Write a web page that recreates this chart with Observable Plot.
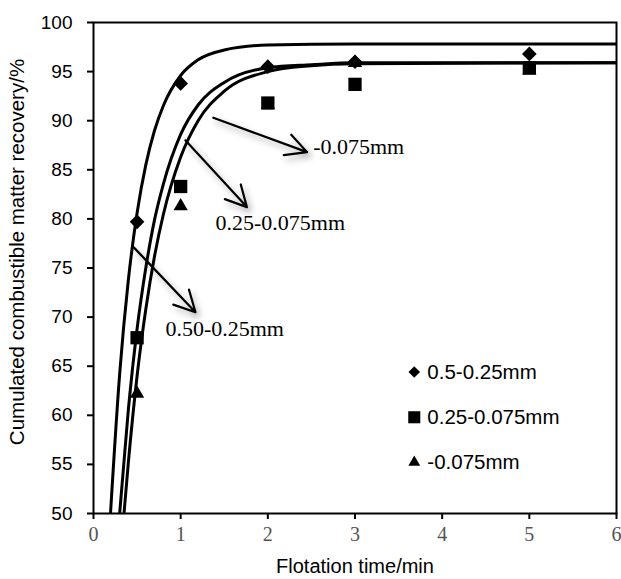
<!DOCTYPE html>
<html><head><meta charset="utf-8">
<script src="https://cdn.jsdelivr.net/npm/d3@7"></script>
<script src="https://cdn.jsdelivr.net/npm/@observablehq/plot@0.6"></script>
<style>body{margin:0;background:#fff}</style>
</head><body><div id="chart"></div>
<script>
// Measured points
const seriesNames = ["0.5-0.25mm", "0.25-0.075mm", "-0.075mm"];
const times = [0.5, 1, 2, 3, 5];
const coarseVals = [79.7, 93.8, 95.5, 96.0, 96.8];
const mediumVals = [67.9, 83.3, 91.8, 93.7, 95.4];
const fineVals   = [62.2, 81.3, 91.6, 95.9, 95.1];

// Fitted curves
const fitTimesA = [0.195, 0.3, 0.4, 0.5, 0.6, 0.7, 0.8, 1.0, 1.2, 1.5, 2.0, 3.0, 6.0];
const fitValsA  = [50.0, 64.2, 73.8, 80.6, 85.5, 89.0, 91.5, 94.6, 96.2, 97.2, 97.7, 97.8, 97.8];
const fitTimesB = [0.30, 0.4, 0.5, 0.6, 0.7, 0.8, 1.0, 1.2, 1.5, 2.0, 2.5, 3.0, 6.0];
const fitValsB  = [50.0, 60.6, 68.8, 75.0, 79.9, 83.5, 88.6, 91.6, 93.9, 95.4, 95.7, 95.9, 95.9];
const fitTimesC = [0.35, 0.4, 0.5, 0.6, 0.7, 0.8, 1.0, 1.2, 1.5, 2.0, 2.5, 3.0, 6.0];
const fitValsC  = [50.0, 55.2, 64.0, 70.8, 76.2, 80.4, 86.3, 90.0, 93.0, 95.0, 95.6, 95.8, 95.9];

// Ticks
const xTicks = [0, 1, 2, 3, 4, 5, 6];
const yTicks = [50, 55, 60, 65, 70, 75, 80, 85, 90, 95, 100];

// Annotations (arrow start/end and label in data units)
const annLabels = ["-0.075mm", "0.25-0.075mm", "0.50-0.25mm"];
const annX1 = [1.375, 1.054, 0.462];
const annY1 = [90.3, 88.0, 77.1];
const annX2 = [2.45, 1.76, 1.17];
const annY2 = [86.8, 81.2, 70.5];
const annTX = [2.52, 1.40, 0.825];
const annTY = [87.3, 79.6, 68.8];

// Legend positions (data units)
const legMarkX = 3.68, legTextX = 3.83;
const legY = [64.4, 59.8, 55.2];

const pts = (vals) => times.map((t, i) => ({t, v: vals[i]}));
const fit = (ts, vs, s) => ts.map((t, i) => ({t, v: vs[i], s}));
const curves = [
  ...fit(fitTimesA, fitValsA, seriesNames[0]),
  ...fit(fitTimesB, fitValsB, seriesNames[1]),
  ...fit(fitTimesC, fitValsC, seriesNames[2])
];
const arrows = annLabels.map((l, i) => ({l, x1: annX1[i], y1: annY1[i], x2: annX2[i], y2: annY2[i], tx: annTX[i], ty: annTY[i]}));
const legend = seriesNames.map((s, i) => ({s, y: legY[i]}));

const sans = "Arial, 'Liberation Sans', sans-serif";
const serif = "'Times New Roman', 'Liberation Serif', serif";

const plot = Plot.plot({
  width: 621, height: 579,
  marginLeft: 93, marginRight: 5, marginTop: 22, marginBottom: 66,
  x: {domain: [0, 6]},
  y: {domain: [50, 100]},
  style: {background: "#fff", color: "#000"},
  marks: [
    Plot.axisY({ticks: yTicks, tickFormat: d3.format("d"), tickSize: 6, tickPadding: 15, strokeWidth: 2, fontSize: 19, fontFamily: sans, label: null}),
    Plot.axisX({ticks: xTicks, tickFormat: d3.format("d"), tickSize: 6, tickPadding: 7, strokeWidth: 2, fontSize: 20, fontFamily: serif, fill: "#555", label: null}),
    Plot.text(["Cumulated combustible matter recovery/%"], {frameAnchor: "left", rotate: -90, dx: -76, dy: -16, fontSize: 20.5, fontFamily: sans, textAnchor: "middle", lineAnchor: "middle"}),
    Plot.text(["Flotation time/min"], {frameAnchor: "bottom", dy: 53, fontSize: 20, fontFamily: sans, textAnchor: "middle", lineAnchor: "middle"}),
    Plot.line(curves, {x: "t", y: "v", z: "s", stroke: "#000", strokeWidth: 3, curve: "monotone-x", clip: true}),
    Plot.arrow(arrows, {x1: "x1", y1: "y1", x2: "x2", y2: "y2", stroke: "#000", strokeWidth: 2.2, headLength: 16, headAngle: 55}),
    Plot.text(arrows, {x: "tx", y: "ty", text: "l", textAnchor: "start", lineAnchor: "middle", fontSize: 22, fontFamily: serif, fill: "#000"}),
    Plot.dot(pts(fineVals), {x: "t", y: "v", symbol: "triangle", r: 5.3, fill: "#000", stroke: null}),
    Plot.dot(pts(mediumVals), {x: "t", y: "v", symbol: "square", r: 7.5, fill: "#000", stroke: null}),
    Plot.dot(pts(coarseVals), {x: "t", y: "v", symbol: "diamond2", r: 6.6, fill: "#000", stroke: null}),
    Plot.dot([legend[0]], {x: () => legMarkX, y: "y", symbol: "diamond2", r: 5.2, fill: "#000", stroke: null}),
    Plot.dot([legend[1]], {x: () => legMarkX, y: "y", symbol: "square", r: 6.8, fill: "#000", stroke: null}),
    Plot.dot([legend[2]], {x: () => legMarkX, y: "y", symbol: "triangle", r: 4.4, fill: "#000", stroke: null}),
    Plot.text(legend, {x: () => legTextX, y: "y", text: "s", textAnchor: "start", lineAnchor: "middle", fontSize: 20.5, fontFamily: sans, fill: "#000"}),
    Plot.frame({stroke: "#000", strokeWidth: 2})
  ]
});
document.getElementById("chart").appendChild(plot);
d3.select(plot).selectAll('g[aria-label="arrow"]').style("filter", "drop-shadow(3px 4px 3px rgba(0,0,0,0.35))");
</script>
</body></html>
